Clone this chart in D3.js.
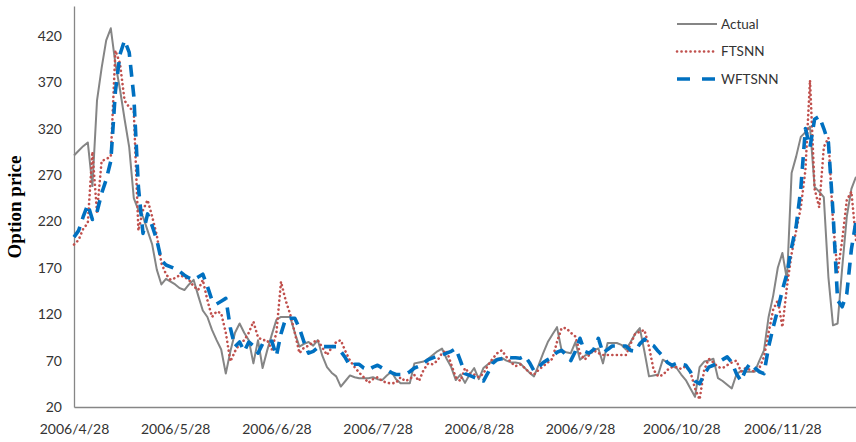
<!DOCTYPE html>
<html>
<head>
<meta charset="utf-8">
<script src="https://cdn.jsdelivr.net/npm/d3@7/dist/d3.min.js"></script>
<style>
  html, body { margin: 0; padding: 0; background: #fff; }
  svg { display: block; }
</style>
</head>
<body>
<svg id="chart" width="856" height="442"></svg>
<script>
// Daily option prices, one value per trading day starting 2006/4/28
const actual = [
  291, 296, 301, 305, 258, 350, 385, 415, 428, 390,
  362, 330, 300, 245, 232, 225, 210, 195, 168, 152,
  158, 155, 152, 148, 146, 152, 157, 140, 124, 117,
  103, 92, 82, 56, 80, 100, 110, 100, 92, 67,
  92, 62, 81, 98, 114, 117, 117, 117, 100, 85,
  88, 90, 86, 92, 75, 63, 57, 53, 42, 48,
  54, 52, 51, 51, 51, 52, 50, 49, 54, 58,
  50, 45.5, 45.5, 45.5, 67, 68, 69, 72, 76, 80,
  83, 72, 63, 49, 55, 46, 55, 62, 50, 62,
  66, 70, 72, 73, 70, 68, 68, 67, 62, 57,
  53, 65, 78, 90, 98, 106, 81, 79, 78, 90,
  71, 75, 78, 81, 83, 67, 89, 89, 89, 87,
  82, 90, 99, 105, 80, 53, 54, 55, 71, 68,
  64, 62, 55, 49, 40, 31, 63, 69, 70, 72,
  51, 48, 44, 40, 55, 59, 58, 58, 58, 70,
  81, 117, 140, 170, 186, 157, 272, 290, 311, 316,
  322, 257, 252, 246, 160, 108, 110, 170, 225, 255,
  268
];

const ftsnn = [
  195, 200, 212, 218, 295, 230, 285, 287, 290, 404,
  390, 350, 343, 338, 210, 232, 243, 225, 205, 175,
  163, 157, 159, 162, 160, 157, 150, 146, 157, 135,
  117, 123, 121, 100, 69, 80, 88, 92, 100, 112,
  95, 92, 92, 82, 100, 155, 135, 120, 100, 78,
  84, 86, 90, 92, 84, 76, 84, 90, 92, 80,
  70, 63, 57, 52, 46, 50, 52, 48, 46, 45.5,
  46, 52, 48, 50, 54.5, 48, 60, 67, 66, 70,
  78, 81, 66, 52, 48, 62, 56, 55, 52, 56,
  65, 72, 78, 81, 74, 68, 64, 66, 62, 57,
  55, 60, 64, 68, 72, 90, 105, 105, 100, 96,
  78, 71, 76, 81, 78, 76, 76, 76, 76, 76,
  76, 88, 99, 101, 103, 85, 60, 53, 54.5, 60,
  63, 63, 61, 64, 58, 40, 28, 60, 72, 68,
  63, 62, 65, 68, 70, 58, 62, 60, 58, 62,
  74, 100, 125, 135, 106, 150, 185, 210, 235, 275,
  372, 255, 235, 300, 310, 220, 165, 200, 243, 252,
  200
];

const wftsnn = [
  203, 210, 225, 238, 222, 230, 250, 265, 285, 360,
  400, 415, 402, 355, 257, 207, 228, 215, 200, 178,
  173, 171, 169, 166, 162, 159, 157, 160, 163, 150,
  135, 131, 134, 137, 105, 85, 90, 80, 90, 86,
  78, 88, 88, 91, 75, 99, 115, 115.6, 115.6, 105,
  90, 78, 80, 84, 85, 85, 85, 85, 80, 73,
  64, 66, 66, 62, 60, 63, 65, 62, 60, 57,
  55, 55, 55, 58, 62, 64, 67, 71, 73, 75,
  76, 78, 80, 83, 70, 56, 54, 52, 50, 48,
  57, 67, 71, 72, 74, 73, 73, 72.5, 75, 68,
  59, 63, 68, 71, 74, 79, 81, 76, 70, 80,
  94, 80, 78, 82, 94, 78, 82, 85.7, 85.7, 85.7,
  85.7, 81, 80, 88, 93, 89, 86, 80, 75, 68,
  65, 67, 66, 65, 58, 48, 45, 55, 63, 65,
  68, 71, 74, 68, 56, 48, 60, 67, 62, 58,
  56, 85, 106, 125, 146, 164, 192, 215, 255, 320,
  300, 330, 333, 320, 305, 230, 135, 128, 142, 190,
  220
];

const dateLabels = ["2006/4/28", "2006/5/28", "2006/6/28", "2006/7/28",
                    "2006/8/28", "2006/9/28", "2006/10/28", "2006/11/28"];
const labelStep = 22;               // trading days between date labels
const yTicks = [20, 70, 120, 170, 220, 270, 320, 370, 420];
const seriesNames = ["Actual", "FTSNN", "WFTSNN"];

const svg = d3.select("#chart");
const labelFont = "Lato, 'Open Sans', sans-serif";

const x = d3.scaleLinear().domain([0, actual.length - 1]).range([74, 856]);
const y = d3.scaleLinear().domain([20, 452]).range([407, 6]);

// axes
const yAxis = d3.axisLeft(y).tickValues(yTicks).tickSize(0).tickPadding(12);
const gy = svg.append("g").attr("transform", "translate(74,0)").call(yAxis);
gy.select(".domain").attr("stroke", "#868686").attr("stroke-width", 1.3);
gy.selectAll("text").attr("font-family", labelFont).attr("font-size", 14).attr("fill", "#333");

const xAxis = d3.axisBottom(x)
  .tickValues(dateLabels.map((d, i) => i * labelStep))
  .tickFormat((d, i) => dateLabels[i])
  .tickSize(0).tickPadding(17);
const gx = svg.append("g").attr("transform", "translate(0,407)").call(xAxis);
gx.select(".domain").attr("stroke", "#868686").attr("stroke-width", 1.3);
gx.selectAll("text").attr("font-family", labelFont).attr("font-size", 14).attr("fill", "#333");

// axis title
svg.append("text")
  .attr("transform", "translate(21,207) rotate(-90)")
  .attr("text-anchor", "middle")
  .attr("font-family", "'Liberation Serif', 'DejaVu Serif', serif")
  .attr("font-weight", "bold")
  .attr("font-size", 19)
  .attr("fill", "#000")
  .text("Option price");

// series lines
const styles = [
  { color: "#858585", width: 2, dash: null, cap: "butt" },
  { color: "#C0504D", width: 2.6, dash: "0.1,4.4", cap: "round" },
  { color: "#0070C0", width: 3.6, dash: "12,8", cap: "butt" }
];
const seriesData = [actual, ftsnn, wftsnn];

const line = d3.line().x((d, i) => x(i)).y(d => y(d));

seriesData.forEach((values, k) => {
  const s = styles[k];
  svg.append("path")
    .datum(values)
    .attr("fill", "none")
    .attr("stroke", s.color)
    .attr("stroke-width", s.width)
    .attr("stroke-linecap", s.cap)
    .attr("stroke-linejoin", "round")
    .attr("stroke-dasharray", s.dash)
    .attr("d", line);
});

// legend
const legend = svg.append("g");
seriesNames.forEach((name, k) => {
  const s = styles[k];
  const cy = 24 + k * 27.5;
  legend.append("line")
    .attr("x1", 677).attr("x2", 717)
    .attr("y1", cy).attr("y2", cy)
    .attr("stroke", s.color)
    .attr("stroke-width", s.width)
    .attr("stroke-linecap", s.cap)
    .attr("stroke-dasharray", k === 2 ? "13,12" : s.dash);
  legend.append("text")
    .attr("x", 721).attr("y", cy)
    .attr("dy", "0.35em")
    .attr("font-family", labelFont)
    .attr("font-size", 13.5)
    .attr("fill", "#333")
    .text(name);
});
</script>
</body>
</html>
